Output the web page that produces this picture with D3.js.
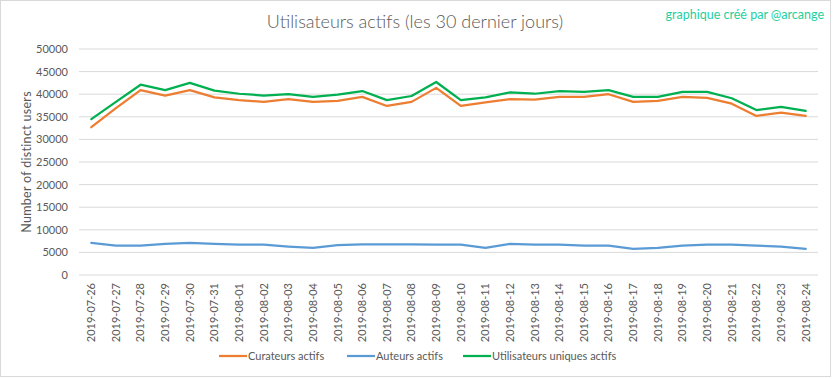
<!DOCTYPE html>
<html><head><meta charset="utf-8">
<script src="https://cdn.jsdelivr.net/npm/d3@7"></script>
<style>body{margin:0;background:#fff;} svg{display:block;font-family:Lato,"Open Sans",sans-serif;}</style>
</head><body>
<svg id="c" width="833" height="379"></svg>
<script>
const dates = ["2019-07-26","2019-07-27","2019-07-28","2019-07-29","2019-07-30","2019-07-31","2019-08-01","2019-08-02","2019-08-03","2019-08-04","2019-08-05","2019-08-06","2019-08-07","2019-08-08","2019-08-09","2019-08-10","2019-08-11","2019-08-12","2019-08-13","2019-08-14","2019-08-15","2019-08-16","2019-08-17","2019-08-18","2019-08-19","2019-08-20","2019-08-21","2019-08-22","2019-08-23","2019-08-24"];
const curateurs = [32700,36900,40900,39700,40900,39300,38700,38300,38900,38300,38500,39400,37400,38300,41400,37400,38200,38900,38800,39400,39400,40000,38300,38500,39400,39200,37900,35200,35900,35200];
const auteurs = [7100,6500,6500,6900,7100,6900,6700,6700,6300,6000,6600,6800,6800,6800,6700,6700,6000,6900,6700,6700,6500,6500,5800,6000,6500,6700,6700,6500,6300,5800];
const uniques = [34500,38300,42100,40900,42500,40800,40100,39700,40000,39400,39900,40700,38700,39600,42700,38700,39300,40400,40100,40700,40500,40900,39400,39400,40500,40500,39100,36500,37200,36300];
const yTicks = [0,5000,10000,15000,20000,25000,30000,35000,40000,45000,50000];
const seriesNames = ["Curateurs actifs","Auteurs actifs","Utilisateurs uniques actifs"];
const seriesColors = ["#ED7D31","#5B9BD5","#00B050"];
const seriesData = [curateurs, auteurs, uniques];

const svg = d3.select("#c");
const txt = "#595959";
svg.append("rect").attr("x",0.5).attr("y",0.5).attr("width",830).attr("height",376)
  .attr("fill","#fff").attr("stroke","#d9d9d9");

const L=79, R=818, T=49, B=275;
const x = d3.scaleBand().domain(dates).range([L,R]);
const y = d3.scaleLinear().domain([0,50000]).range([B,T]);

// gridlines
svg.append("g").selectAll("line").data(yTicks).join("line")
  .attr("x1",L).attr("x2",R).attr("y1",d=>y(d)).attr("y2",d=>y(d))
  .attr("stroke","#d9d9d9").attr("stroke-width",1);

// y axis
const ya = svg.append("g").attr("transform",`translate(${L},0)`)
  .call(d3.axisLeft(y).tickValues(yTicks).tickSize(0).tickPadding(11).tickFormat(d=>String(d)));
ya.select(".domain").remove();
ya.selectAll("text").attr("fill",txt).style("font-size","11px").style("font-family","Lato,sans-serif");

// x axis
const xa = svg.append("g").attr("transform",`translate(0,${B})`)
  .call(d3.axisBottom(x).tickSize(0).tickPadding(0));
xa.select(".domain").remove();
xa.selectAll("text").attr("fill",txt).style("font-size","11px").style("font-family","Lato,sans-serif")
  .attr("transform","rotate(-90)").attr("text-anchor","end").attr("x",-8).attr("y",0).attr("dy","0.35em");

// lines
const line = d3.line().x((d,i)=>x(dates[i])+x.bandwidth()/2).y(d=>y(d));
seriesData.forEach((s,k)=>{
  svg.append("path").datum(s).attr("d",line).attr("fill","none")
    .attr("stroke",seriesColors[k]).attr("stroke-width",2.25).attr("stroke-linejoin","round").attr("stroke-linecap","round");
});

// title
svg.append("text").attr("x",415).attr("y",28).attr("text-anchor","middle")
  .attr("fill",txt).style("font-size","18px").style("font-weight","300").text("Utilisateurs actifs (les 30 dernier jours)");
svg.append("text").attr("x",824).attr("y",19).attr("text-anchor","end")
  .attr("fill","#1ED0A0").style("font-size","12.5px").text("graphique créé par @arcange");

// y label
svg.append("text").attr("transform","translate(31,162) rotate(-90)").attr("text-anchor","middle")
  .attr("fill",txt).style("font-size","12.5px").style("letter-spacing","0.3px").text("Number of distinct users");

// legend
const legX = [219,347,463];
seriesNames.forEach((n,k)=>{
  const g = svg.append("g").attr("transform",`translate(${legX[k]},356)`);
  g.append("line").attr("x1",0).attr("x2",28).attr("stroke",seriesColors[k]).attr("stroke-width",2.25);
  g.append("text").attr("x",29).attr("y",0).attr("dy","0.35em").attr("fill",txt).style("font-size","11px").text(n);
});
</script>
</body></html>
